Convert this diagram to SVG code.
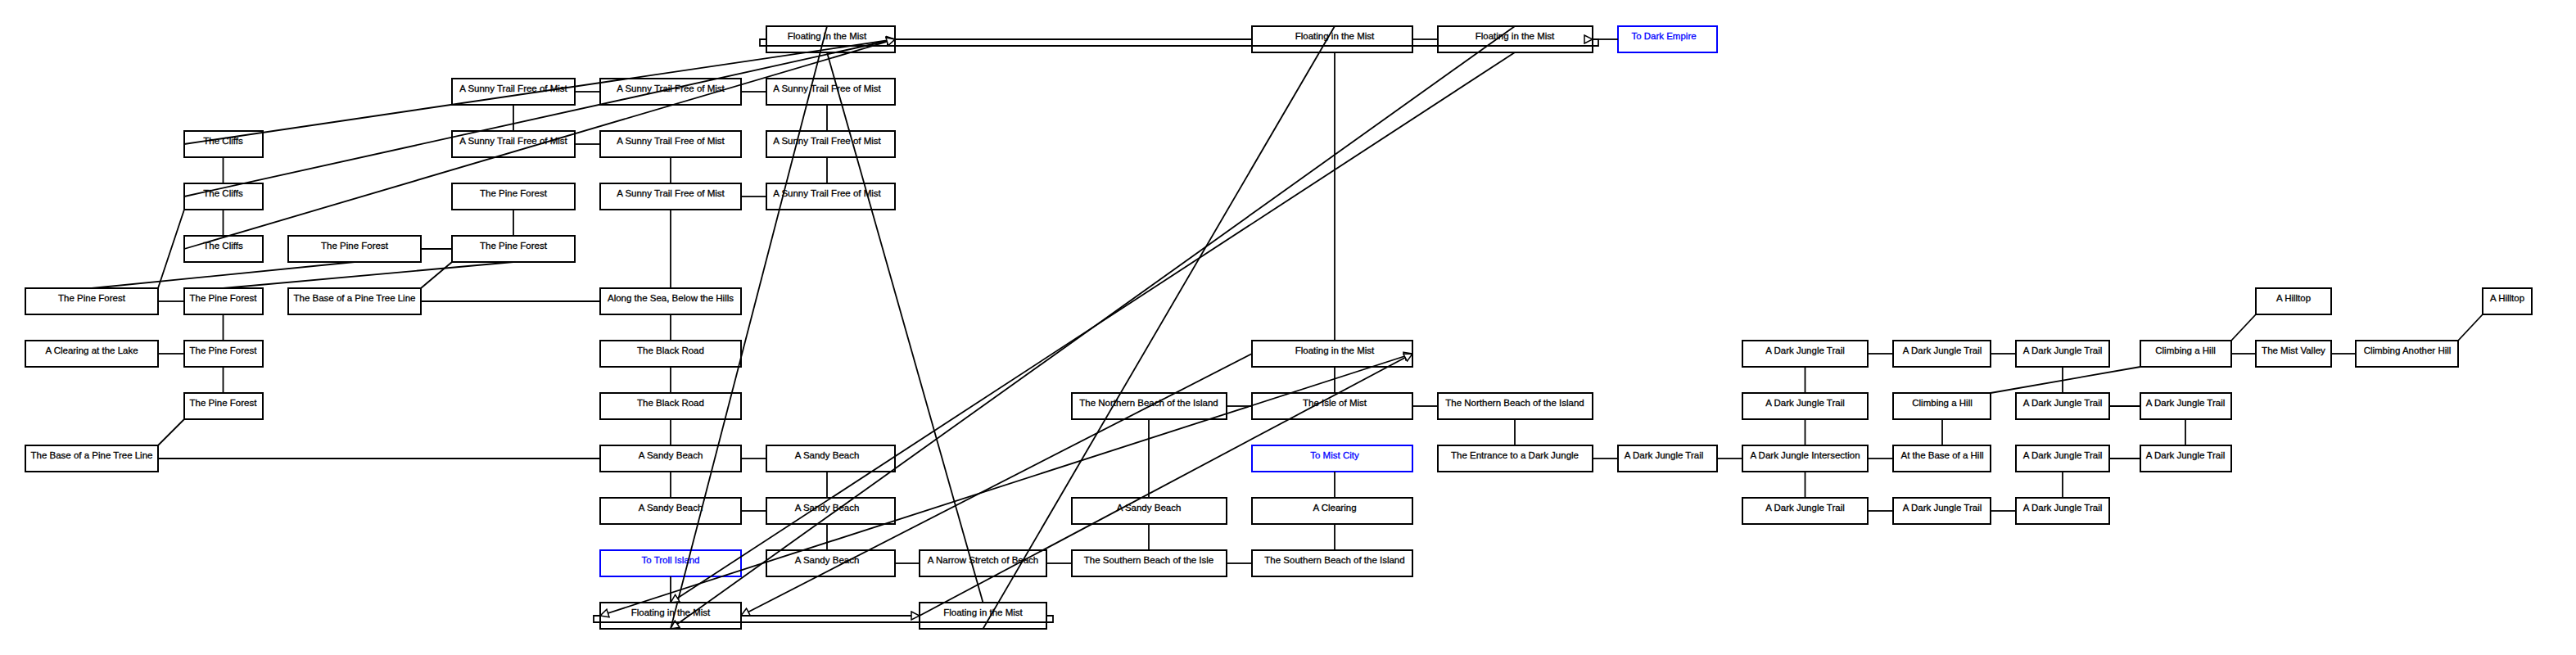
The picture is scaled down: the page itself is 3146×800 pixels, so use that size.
<svg xmlns="http://www.w3.org/2000/svg" width="3146" height="800" viewBox="0 0 3146 800">
<style>
.n rect{fill:#fff;stroke:#000;stroke-width:2}
.n text{font-family:"Liberation Sans",Arial,sans-serif;font-size:11.5px;text-anchor:middle;fill:#000;stroke:#000;stroke-width:0.3}
.b rect{stroke:#0000ff}
.b text{fill:#0000ff;stroke:#0000ff}
#edges line,#edges path{stroke:#000;stroke-width:1.8;fill:none}
.a{marker-end:url(#arr)}
</style>
<defs>
<marker id="arr" viewBox="0 0 12 12" refX="11" refY="6" markerWidth="12" markerHeight="12" markerUnits="userSpaceOnUse" orient="auto-start-reverse">
<path d="M1,1 L11,6 L1,11 Z" fill="#fff" stroke="#000" stroke-width="1.5"/>
</marker>
<marker id="arrB" viewBox="0 0 12 12" refX="1" refY="6" markerWidth="12" markerHeight="12" markerUnits="userSpaceOnUse" orient="auto">
<path d="M11,1 L1,6 L11,11 Z" fill="#fff" stroke="#000" stroke-width="1.5"/>
</marker>
</defs>
<rect width="3146" height="800" fill="#fff"/>
<g id="nodes">
<g id="n-F0" class="n"><rect x="936" y="32" width="157" height="32"/><text x="1010" y="48">Floating in the Mist</text></g>
<g id="n-I0" class="n"><rect x="1529" y="32" width="196" height="32"/><text x="1630" y="48">Floating in the Mist</text></g>
<g id="n-J0" class="n"><rect x="1756" y="32" width="189" height="32"/><text x="1850" y="48">Floating in the Mist</text></g>
<g id="n-K0" class="n b"><rect x="1976" y="32" width="121" height="32"/><text x="2032" y="48">To Dark Empire</text></g>
<g id="n-D1" class="n"><rect x="552" y="96" width="150" height="32"/><text x="627" y="112">A Sunny Trail Free of Mist</text></g>
<g id="n-E1" class="n"><rect x="733" y="96" width="172" height="32"/><text x="819" y="112">A Sunny Trail Free of Mist</text></g>
<g id="n-F1" class="n"><rect x="936" y="96" width="157" height="32"/><text x="1010" y="112">A Sunny Trail Free of Mist</text></g>
<g id="n-B2" class="n"><rect x="225" y="160" width="96" height="32"/><text x="272.5" y="176">The Cliffs</text></g>
<g id="n-D2" class="n"><rect x="552" y="160" width="150" height="32"/><text x="627" y="176">A Sunny Trail Free of Mist</text></g>
<g id="n-E2" class="n"><rect x="733" y="160" width="172" height="32"/><text x="819" y="176">A Sunny Trail Free of Mist</text></g>
<g id="n-F2" class="n"><rect x="936" y="160" width="157" height="32"/><text x="1010" y="176">A Sunny Trail Free of Mist</text></g>
<g id="n-B3" class="n"><rect x="225" y="224" width="96" height="32"/><text x="272.5" y="240">The Cliffs</text></g>
<g id="n-D3" class="n"><rect x="552" y="224" width="150" height="32"/><text x="627" y="240">The Pine Forest</text></g>
<g id="n-E3" class="n"><rect x="733" y="224" width="172" height="32"/><text x="819" y="240">A Sunny Trail Free of Mist</text></g>
<g id="n-F3" class="n"><rect x="936" y="224" width="157" height="32"/><text x="1010" y="240">A Sunny Trail Free of Mist</text></g>
<g id="n-B4" class="n"><rect x="225" y="288" width="96" height="32"/><text x="272.5" y="304">The Cliffs</text></g>
<g id="n-C4" class="n"><rect x="352" y="288" width="162" height="32"/><text x="433" y="304">The Pine Forest</text></g>
<g id="n-D4" class="n"><rect x="552" y="288" width="150" height="32"/><text x="627" y="304">The Pine Forest</text></g>
<g id="n-A5" class="n"><rect x="31" y="352" width="162" height="32"/><text x="112" y="368">The Pine Forest</text></g>
<g id="n-B5" class="n"><rect x="225" y="352" width="96" height="32"/><text x="272.5" y="368">The Pine Forest</text></g>
<g id="n-C5" class="n"><rect x="352" y="352" width="162" height="32"/><text x="433" y="368">The Base of a Pine Tree Line</text></g>
<g id="n-E5" class="n"><rect x="733" y="352" width="172" height="32"/><text x="819" y="368">Along the Sea, Below the Hills</text></g>
<g id="n-P5" class="n"><rect x="2755" y="352" width="92" height="32"/><text x="2801" y="368">A Hilltop</text></g>
<g id="n-R5" class="n"><rect x="3032" y="352" width="60" height="32"/><text x="3062" y="368">A Hilltop</text></g>
<g id="n-A6" class="n"><rect x="31" y="416" width="162" height="32"/><text x="112" y="432">A Clearing at the Lake</text></g>
<g id="n-B6" class="n"><rect x="225" y="416" width="96" height="32"/><text x="272.5" y="432">The Pine Forest</text></g>
<g id="n-E6" class="n"><rect x="733" y="416" width="172" height="32"/><text x="819" y="432">The Black Road</text></g>
<g id="n-I6" class="n"><rect x="1529" y="416" width="196" height="32"/><text x="1630" y="432">Floating in the Mist</text></g>
<g id="n-L6" class="n"><rect x="2128" y="416" width="153" height="32"/><text x="2204.5" y="432">A Dark Jungle Trail</text></g>
<g id="n-M6" class="n"><rect x="2312" y="416" width="119" height="32"/><text x="2372" y="432">A Dark Jungle Trail</text></g>
<g id="n-N6" class="n"><rect x="2462" y="416" width="114" height="32"/><text x="2519" y="432">A Dark Jungle Trail</text></g>
<g id="n-O6" class="n"><rect x="2614" y="416" width="111" height="32"/><text x="2669" y="432">Climbing a Hill</text></g>
<g id="n-P6" class="n"><rect x="2755" y="416" width="92" height="32"/><text x="2801" y="432">The Mist Valley</text></g>
<g id="n-Q6" class="n"><rect x="2877" y="416" width="125" height="32"/><text x="2940" y="432">Climbing Another Hill</text></g>
<g id="n-B7" class="n"><rect x="225" y="480" width="96" height="32"/><text x="272.5" y="496">The Pine Forest</text></g>
<g id="n-E7" class="n"><rect x="733" y="480" width="172" height="32"/><text x="819" y="496">The Black Road</text></g>
<g id="n-H7" class="n"><rect x="1309" y="480" width="189" height="32"/><text x="1403" y="496">The Northern Beach of the Island</text></g>
<g id="n-I7" class="n"><rect x="1529" y="480" width="196" height="32"/><text x="1630" y="496">The Isle of Mist</text></g>
<g id="n-J7" class="n"><rect x="1756" y="480" width="189" height="32"/><text x="1850" y="496">The Northern Beach of the Island</text></g>
<g id="n-L7" class="n"><rect x="2128" y="480" width="153" height="32"/><text x="2204.5" y="496">A Dark Jungle Trail</text></g>
<g id="n-M7" class="n"><rect x="2312" y="480" width="119" height="32"/><text x="2372" y="496">Climbing a Hill</text></g>
<g id="n-N7" class="n"><rect x="2462" y="480" width="114" height="32"/><text x="2519" y="496">A Dark Jungle Trail</text></g>
<g id="n-O7" class="n"><rect x="2614" y="480" width="111" height="32"/><text x="2669" y="496">A Dark Jungle Trail</text></g>
<g id="n-A8" class="n"><rect x="31" y="544" width="162" height="32"/><text x="112" y="560">The Base of a Pine Tree Line</text></g>
<g id="n-E8" class="n"><rect x="733" y="544" width="172" height="32"/><text x="819" y="560">A Sandy Beach</text></g>
<g id="n-F8" class="n"><rect x="936" y="544" width="157" height="32"/><text x="1010" y="560">A Sandy Beach</text></g>
<g id="n-I8" class="n b"><rect x="1529" y="544" width="196" height="32"/><text x="1630" y="560">To Mist City</text></g>
<g id="n-J8" class="n"><rect x="1756" y="544" width="189" height="32"/><text x="1850" y="560">The Entrance to a Dark Jungle</text></g>
<g id="n-K8" class="n"><rect x="1976" y="544" width="121" height="32"/><text x="2032" y="560">A Dark Jungle Trail</text></g>
<g id="n-L8" class="n"><rect x="2128" y="544" width="153" height="32"/><text x="2204.5" y="560">A Dark Jungle Intersection</text></g>
<g id="n-M8" class="n"><rect x="2312" y="544" width="119" height="32"/><text x="2372" y="560">At the Base of a Hill</text></g>
<g id="n-N8" class="n"><rect x="2462" y="544" width="114" height="32"/><text x="2519" y="560">A Dark Jungle Trail</text></g>
<g id="n-O8" class="n"><rect x="2614" y="544" width="111" height="32"/><text x="2669" y="560">A Dark Jungle Trail</text></g>
<g id="n-E9" class="n"><rect x="733" y="608" width="172" height="32"/><text x="819" y="624">A Sandy Beach</text></g>
<g id="n-F9" class="n"><rect x="936" y="608" width="157" height="32"/><text x="1010" y="624">A Sandy Beach</text></g>
<g id="n-H9" class="n"><rect x="1309" y="608" width="189" height="32"/><text x="1403" y="624">A Sandy Beach</text></g>
<g id="n-I9" class="n"><rect x="1529" y="608" width="196" height="32"/><text x="1630" y="624">A Clearing</text></g>
<g id="n-L9" class="n"><rect x="2128" y="608" width="153" height="32"/><text x="2204.5" y="624">A Dark Jungle Trail</text></g>
<g id="n-M9" class="n"><rect x="2312" y="608" width="119" height="32"/><text x="2372" y="624">A Dark Jungle Trail</text></g>
<g id="n-N9" class="n"><rect x="2462" y="608" width="114" height="32"/><text x="2519" y="624">A Dark Jungle Trail</text></g>
<g id="n-E10" class="n b"><rect x="733" y="672" width="172" height="32"/><text x="819" y="688">To Troll Island</text></g>
<g id="n-F10" class="n"><rect x="936" y="672" width="157" height="32"/><text x="1010" y="688">A Sandy Beach</text></g>
<g id="n-G10" class="n"><rect x="1123" y="672" width="155" height="32"/><text x="1200.5" y="688">A Narrow Stretch of Beach</text></g>
<g id="n-H10" class="n"><rect x="1309" y="672" width="189" height="32"/><text x="1403" y="688">The Southern Beach of the Isle</text></g>
<g id="n-I10" class="n"><rect x="1529" y="672" width="196" height="32"/><text x="1630" y="688">The Southern Beach of the Island</text></g>
<g id="n-E11" class="n"><rect x="733" y="736" width="172" height="32"/><text x="819" y="752">Floating in the Mist</text></g>
<g id="n-G11" class="n"><rect x="1123" y="736" width="155" height="32"/><text x="1200.5" y="752">Floating in the Mist</text></g>
</g>
<g id="edges">
<line x1="193" y1="368" x2="225" y2="368"/>
<line x1="272.5" y1="192" x2="272.5" y2="224"/>
<line x1="272.5" y1="256" x2="272.5" y2="288"/>
<line x1="225" y1="256" x2="193" y2="352"/>
<line x1="433" y1="320" x2="112" y2="352"/>
<line x1="627" y1="320" x2="272.5" y2="352"/>
<line x1="272.5" y1="384" x2="272.5" y2="416"/>
<line x1="193" y1="432" x2="225" y2="432"/>
<line x1="272.5" y1="448" x2="272.5" y2="480"/>
<line x1="225" y1="512" x2="193" y2="544"/>
<line x1="193" y1="560" x2="733" y2="560"/>
<line x1="514" y1="304" x2="552" y2="304"/>
<line x1="627" y1="256" x2="627" y2="288"/>
<line x1="514" y1="352" x2="552" y2="320"/>
<line x1="514" y1="368" x2="733" y2="368"/>
<line x1="627" y1="128" x2="627" y2="160"/>
<line x1="702" y1="112" x2="733" y2="112"/>
<line x1="702" y1="176" x2="733" y2="176"/>
<line x1="905" y1="112" x2="936" y2="112"/>
<line x1="819" y1="192" x2="819" y2="224"/>
<line x1="905" y1="240" x2="936" y2="240"/>
<line x1="819" y1="256" x2="819" y2="352"/>
<line x1="1010" y1="128" x2="1010" y2="160"/>
<line x1="1010" y1="192" x2="1010" y2="224"/>
<line x1="819" y1="384" x2="819" y2="416"/>
<line x1="819" y1="448" x2="819" y2="480"/>
<line x1="819" y1="512" x2="819" y2="544"/>
<line x1="819" y1="576" x2="819" y2="608"/>
<line x1="905" y1="560" x2="936" y2="560"/>
<line x1="905" y1="624" x2="936" y2="624"/>
<line x1="1010" y1="576" x2="1010" y2="608"/>
<line x1="1010" y1="640" x2="1010" y2="672"/>
<line x1="819" y1="704" x2="819" y2="736"/>
<line x1="1093" y1="688" x2="1123" y2="688"/>
<line x1="1278" y1="688" x2="1309" y2="688"/>
<line x1="1498" y1="688" x2="1529" y2="688"/>
<line x1="1403" y1="512" x2="1403" y2="608"/>
<line x1="1403" y1="640" x2="1403" y2="672"/>
<line x1="1498" y1="496" x2="1529" y2="496"/>
<line x1="1630" y1="64" x2="1630" y2="416"/>
<line x1="1630" y1="448" x2="1630" y2="480"/>
<line x1="1630" y1="576" x2="1630" y2="608"/>
<line x1="1630" y1="640" x2="1630" y2="672"/>
<line x1="1725" y1="496" x2="1756" y2="496"/>
<line x1="1850" y1="512" x2="1850" y2="544"/>
<line x1="1945" y1="560" x2="1976" y2="560"/>
<line x1="2097" y1="560" x2="2128" y2="560"/>
<line x1="2204.5" y1="448" x2="2204.5" y2="480"/>
<line x1="2204.5" y1="512" x2="2204.5" y2="544"/>
<line x1="2204.5" y1="576" x2="2204.5" y2="608"/>
<line x1="2281" y1="432" x2="2312" y2="432"/>
<line x1="2431" y1="432" x2="2462" y2="432"/>
<line x1="2519" y1="448" x2="2519" y2="480"/>
<line x1="2576" y1="496" x2="2614" y2="496"/>
<line x1="2431" y1="480" x2="2614" y2="448"/>
<line x1="2372" y1="512" x2="2372" y2="544"/>
<line x1="2281" y1="560" x2="2312" y2="560"/>
<line x1="2576" y1="560" x2="2614" y2="560"/>
<line x1="2669" y1="512" x2="2669" y2="544"/>
<line x1="2519" y1="576" x2="2519" y2="608"/>
<line x1="2281" y1="624" x2="2312" y2="624"/>
<line x1="2431" y1="624" x2="2462" y2="624"/>
<line x1="2725" y1="416" x2="2755" y2="384"/>
<line x1="2725" y1="432" x2="2755" y2="432"/>
<line x1="2847" y1="432" x2="2877" y2="432"/>
<line x1="3002" y1="416" x2="3032" y2="384"/>
<line x1="1725" y1="48" x2="1756" y2="48"/>
<line x1="1945" y1="48" x2="1976" y2="48"/>
<line x1="1093" y1="48" x2="1529" y2="48"/>
<line x1="1010" y1="64" x2="1200.5" y2="736"/>
<line x1="1630" y1="32" x2="1200.5" y2="768"/>
<line x1="1010" y1="32" x2="819" y2="768"/>
<line class="a" x1="225" y1="176" x2="1093" y2="48"/>
<line class="a" x1="225" y1="240" x2="1093" y2="48"/>
<line class="a" x1="225" y1="304" x2="1093" y2="48"/>
<line class="a" x1="1850" y1="32" x2="819" y2="768"/>
<line class="a" x1="1850" y1="64" x2="819" y2="736"/>
<line class="a" x1="733" y1="752" x2="1725" y2="432" marker-start="url(#arr)"/>
<line class="a" x1="1123" y1="752" x2="1725" y2="432"/>
<line class="a" x1="1529" y1="432" x2="905" y2="752"/>
<line class="a" x1="905" y1="752" x2="1123" y2="752"/>
<path d="M1278,752 H1286 V760 H725 V752 H733"/>
<path d="M936,48 H928 V56 H1952 V48 H1945" marker-end="url(#arrB)"/>
</g>
</svg>
